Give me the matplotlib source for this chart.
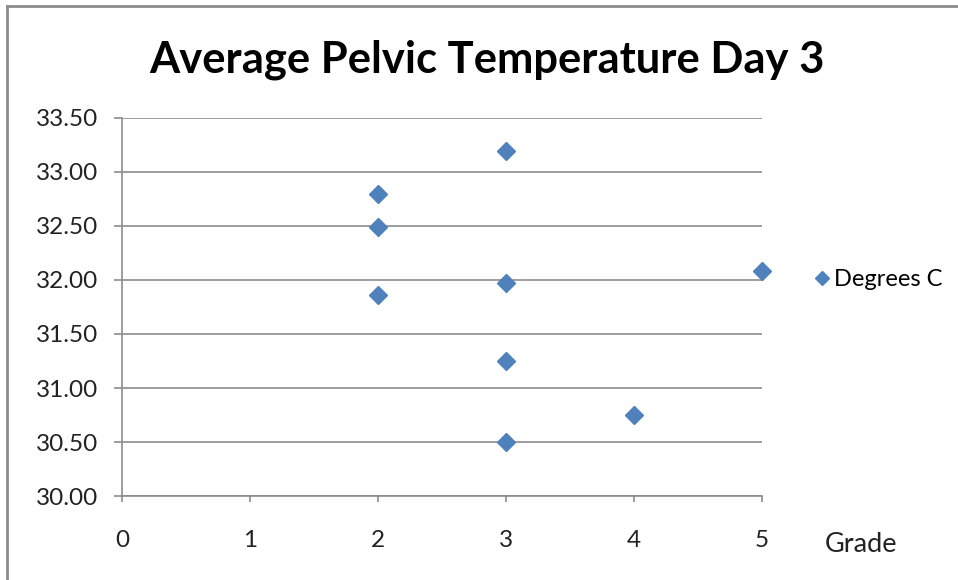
import matplotlib
matplotlib.use("Agg")
import matplotlib.pyplot as plt
from matplotlib.lines import Line2D

plt.rcParams['font.family'] = ['Lato', 'DejaVu Sans']

# grade vs average pelvic temperature (deg C), day 3
grade = [2, 2, 2, 3, 3, 3, 3, 4, 5]
degrees_c = [32.80, 32.49, 31.86, 33.19, 31.97, 31.25, 30.50, 30.75, 32.08]

y_ticks = [30.0, 30.5, 31.0, 31.5, 32.0, 32.5, 33.0, 33.5]
x_ticks = [0, 1, 2, 3, 4, 5]

blue = '#4F81BD'
grey = '#8C8C8C'

fig = plt.figure(figsize=(9.58, 5.80), dpi=100)
ax = fig.add_axes([0.1273, 0.1448, 0.668, 0.6518])

ax.plot(grade, degrees_c, linestyle='none', marker='D', markersize=9.5,
        color=blue, label='Degrees C', zorder=3, clip_on=False)

ax.set_xlim(0, 5)
ax.set_ylim(30, 33.5)
ax.set_yticks(y_ticks)
ax.set_yticklabels([f'{v:.2f}' for v in y_ticks])
ax.set_xticks(x_ticks)
ax.grid(axis='y', color=grey, linewidth=1.2)
ax.set_axisbelow(True)

for s in ['top', 'right']:
    ax.spines[s].set_visible(False)
for s in ['left', 'bottom']:
    ax.spines[s].set_color(grey)
    ax.spines[s].set_linewidth(1.2)

ax.tick_params(axis='y', length=6, width=1.2, color=grey, pad=11,
               labelsize=17.5, labelcolor='#222222')
ax.tick_params(axis='x', length=4.5, width=1.2, color=grey, pad=20,
               labelsize=17.5, labelcolor='#222222')

fig.text(0.508, 0.897, 'Average Pelvic Temperature Day 3', ha='center',
         va='center', fontsize=31.3, fontweight='bold', color='black')
fig.text(0.8612, 0.062, 'Grade', ha='left', va='center', fontsize=19.5,
         color='#222222')

handle = Line2D([], [], linestyle='none', marker='D', markersize=7, color=blue)
fig.legend([handle], ['Degrees C'], loc='center left',
           bbox_to_anchor=(0.851, 0.518), frameon=False, fontsize=17,
           handlelength=0.6, handletextpad=0.2, borderpad=0, borderaxespad=0)

# outer chart border (left and top only, as cropped)
fig.add_artist(Line2D([0.0078, 0.0078], [0, 0.99], transform=fig.transFigure,
                      color='#8C8C8C', linewidth=2))
fig.add_artist(Line2D([0.0078, 1], [0.99, 0.99], transform=fig.transFigure,
                      color='#8C8C8C', linewidth=2))

fig.savefig('out.png', dpi=100)
